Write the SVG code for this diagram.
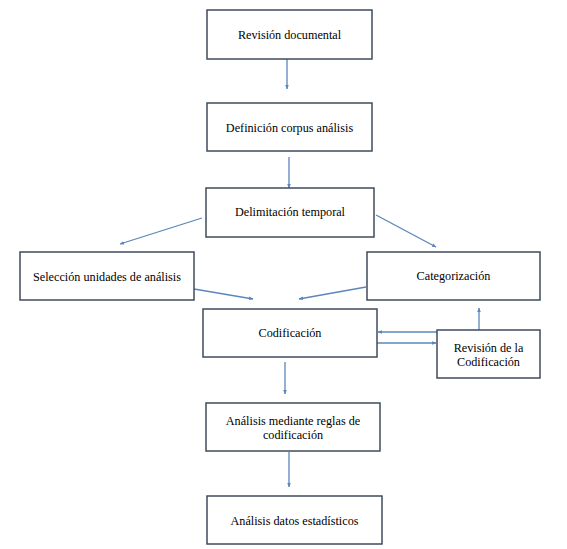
<svg xmlns="http://www.w3.org/2000/svg" width="567" height="549" viewBox="0 0 567 549">
<style>
.box{fill:#ffffff;stroke:#3e4c5c;stroke-width:1.5}
text{font-family:'Liberation Serif','Times New Roman',serif;font-size:12.2px;fill:#000;text-anchor:middle}
.c{stroke:#5a86bd;stroke-width:1.3;fill:none;marker-end:url(#ah)}
</style>
<defs>
<marker id="ah" viewBox="0 0 10 10" refX="9" refY="5" markerWidth="4.5" markerHeight="4.5" orient="auto" markerUnits="userSpaceOnUse">
<path d="M0,1 L10,5 L0,9 z" fill="#5a86bd"/>
</marker>
</defs>
<rect width="567" height="549" fill="#ffffff"/>
<g id="connectors">
<line class="c" x1="287" y1="59" x2="287" y2="89"/>
<line class="c" x1="289" y1="157" x2="289" y2="188"/>
<line class="c" x1="202" y1="218" x2="120" y2="244"/>
<line class="c" x1="376" y1="215" x2="436" y2="247"/>
<line class="c" x1="194" y1="289" x2="253" y2="299"/>
<line class="c" x1="366" y1="287" x2="299" y2="299"/>
<line class="c" x1="437" y1="332" x2="378" y2="332"/>
<line class="c" x1="377" y1="343" x2="436" y2="343"/>
<line class="c" x1="479" y1="330" x2="479" y2="308"/>
<line class="c" x1="285" y1="362" x2="285" y2="394"/>
<line class="c" x1="289" y1="452" x2="289" y2="487"/>
</g>
<g id="n1"><rect class="box" x="207" y="10" width="165" height="49"/><text x="289.5" y="39">Revisión documental</text></g>
<g id="n2"><rect class="box" x="207" y="103" width="165" height="48"/><text x="289.5" y="132">Definición corpus análisis</text></g>
<g id="n3"><rect class="box" x="206" y="188" width="168" height="49"/><text x="290" y="216">Delimitación temporal</text></g>
<g id="n4"><rect class="box" x="20" y="252" width="174" height="48"/><text x="107" y="281">Selección unidades de análisis</text></g>
<g id="n5"><rect class="box" x="367" y="252" width="173" height="48"/><text x="453.5" y="280">Categorización</text></g>
<g id="n6"><rect class="box" x="203" y="309" width="174" height="48"/><text x="290" y="337">Codificación</text></g>
<g id="n7"><rect class="box" x="437" y="330" width="103" height="48"/><text x="488.5" y="352">Revisión de la</text><text x="488.5" y="366">Codificación</text></g>
<g id="n8"><rect class="box" x="206" y="403" width="174" height="48"/><text x="293" y="425">Análisis mediante reglas de</text><text x="293" y="439">codificación</text></g>
<g id="n9"><rect class="box" x="207" y="496" width="175" height="48"/><text x="294.5" y="525">Análisis datos estadísticos</text></g>
</svg>
